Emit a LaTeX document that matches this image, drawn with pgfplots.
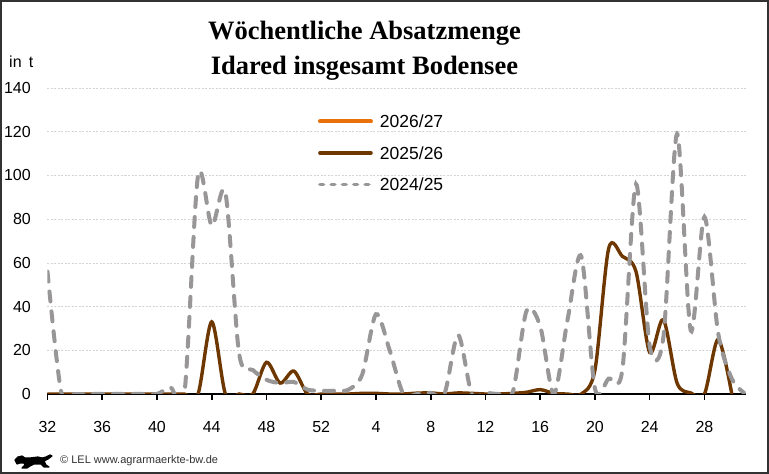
\documentclass[border=0pt]{standalone}
\usepackage{pgfplots}
\usepackage{pgfplotstable}
\pgfplotsset{compat=1.18}
\usepackage{fontspec}
\setmainfont{Liberation Sans}
\newfontfamily\titlefont{Liberation Serif}
\definecolor{lorange}{RGB}{232,113,10}
\definecolor{lbrown}{RGB}{110,55,0}
\definecolor{lgray}{RGB}{152,150,150}
\definecolor{lgrid}{RGB}{212,212,212}
\definecolor{lframe}{RGB}{50,50,50}

% index: 0 = week 32 ... 20 = week 52, 21 = week 1 ... 51 = week 31
\pgfplotstableread{
x y
0 56
1 1
2 0
3 0
4 0
5 0
6 0
7 0
8 0
9 3
10 0
11 100
12 77
13 92
14 18.5
15 11
16 6.5
17 5
18 5.5
19 2
20 1.5
21 1.5
22 2
23 9
24 36.5
25 20
26 0
27 0
28 0.5
29 0
30 27
31 0
32 0.5
33 0
34 1
35 38
36 31
37 0
38 34
39 63
40 2.5
41 7
42 11
43 96
44 22
45 26
46 119
47 29
48 81
49 28
50 7
51 0
}\grayt

\pgfplotstableread{
x y
0 0
1 0
2 0
3 0
4 0
5 0
6 0
7 0
8 0
9 0
10 0
11 0
12 33
13 0
14 0
15 0
16 14.5
17 5
18 10.5
19 0
20 0
21 0
22 0
23 0.3
24 0.3
25 0
26 0
27 0.4
28 0.5
29 0
30 0.5
31 0.3
32 0
33 0
34 0.3
35 0.8
36 2
37 0.3
38 0
39 0
40 11
41 66.5
42 63
43 56
44 19
45 34
46 5
47 0.5
48 0
49 25
50 0
}\brownt

\begin{document}
\begin{tikzpicture}[x=1pt,y=1pt]
\useasboundingbox (0,0) rectangle (769,474);
\fill[white] (0,0) rectangle (769,474);
\begin{axis}[
  at={(47.5pt,80pt)}, anchor=south west,
  scale only axis, width=698pt, height=306pt,
  xmin=0, xmax=51, ymin=0, ymax=140,
  axis x line=bottom, axis y line=left,
  x axis line style={-, line width=2pt, black},
  y axis line style={draw=none},
  xtick={0,4,...,48},
  xticklabels={32,36,40,44,48,52,4,8,12,16,20,24,28},
  ytick={0,20,...,140},
  ymajorgrids,
  grid style={lgrid, dash pattern=on 2pt off 1.5pt, line width=0.7pt},
  tick align=outside, major tick length=6pt,
  xtick style={black, line width=1.6pt},
  ytick style={draw=none},
  /pgf/number format/assume math mode=true,
  xticklabel style={font=\fontsize{16}{18}\selectfont, anchor=center, inner sep=0pt, yshift=-26.5pt},
  yticklabel style={font=\fontsize{16}{18}\selectfont, anchor=east, inner sep=0pt, xshift=-10.5pt},
  legend style={at={(0.3875,0.7876)}, anchor=west, draw=none, fill=none,
    inner sep=0pt, outer sep=0pt, font=\fontsize{17.5}{20}\selectfont,
    row sep=19pt, column sep=7pt,
    nodes={inner sep=0pt, text height=12.5pt, text depth=0pt}},
  legend cell align=left,
  legend image code/.code={\draw[#1] (2pt,0pt) -- (53pt,0pt);},
]
\addlegendimage{lorange, line width=4pt, line cap=round}
\addlegendentry{2026/27}
\addlegendimage{lbrown, line width=3.6pt, line cap=round}
\addlegendentry{2025/26}
\addlegendimage{lgray, line width=3.8pt, line cap=round, dash pattern=on 3.5pt off 7.8pt}
\addlegendentry{2024/25}

\addplot[forget plot, lbrown, line width=3.4pt, smooth, tension=0.5] table[x=x,y=y] {\brownt};
\addplot[forget plot, lgray, line width=4pt, smooth, tension=0.5, line cap=round, dash pattern=on 10pt off 10pt] table[x=x,y=y] {\grayt};
\end{axis}

\node[anchor=base, font=\titlefont\bfseries\fontsize{26.5}{30}\selectfont] at (364.5,434.7) {Wöchentliche Absatzmenge};
\node[anchor=base, font=\titlefont\bfseries\fontsize{26.5}{30}\selectfont] at (364.5,399) {Idared insgesamt Bodensee};
\node[anchor=base west, inner sep=0pt, font=\fontsize{16}{18}\selectfont] at (9,406) {in\, t};
\node[anchor=base west, inner sep=0pt, text=lframe, font=\fontsize{11}{13}\selectfont] at (60,10) {© LEL www.agrarmaerkte-bw.de};
\filldraw[black, line width=1.2pt, line join=round] (15,14) -- (18,17) -- (22,18) -- (25,16) -- (30,16) -- (38,17) -- (42,16) -- (46,17) -- (50,19) -- (52,18) -- (48,15) -- (44,13) -- (46,9) -- (49,7) -- (44,7) -- (41,10) -- (34,10) -- (30,8) -- (27,6) -- (22,6) -- (25,9) -- (24,11) -- (20,11) -- (17,10) -- (16,12) -- cycle;
\draw[lframe, line width=2pt] (1,1) rectangle (768,473);
\end{tikzpicture}
\end{document}
